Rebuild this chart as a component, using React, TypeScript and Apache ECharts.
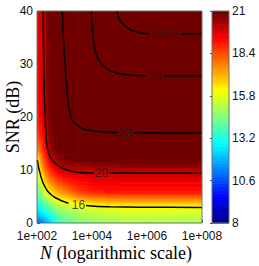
import React, { useEffect, useRef } from 'react';
import * as echarts from 'echarts';

// grid of the surface (x: log10 N, y: SNR in dB)
const logNGrid = [2, 2.15, 2.3, 2.5, 2.75, 3, 3.5, 4, 5, 8];
const snrGrid = [0, 1, 2, 3, 4, 5, 6, 8, 10, 12, 14, 17, 20, 25, 30, 35, 40];
// one array per logN column, values listed along snrGrid
const col200 = [10.5, 11.5, 12.3, 12.8, 13.3, 13.8, 14.2, 14.9, 15.5, 16.1, 17.5, 18.6, 19.0, 19.2, 19.35, 19.45, 19.5];
const col215 = [11.0, 11.9, 12.6, 13.1, 13.7, 14.3, 14.8, 15.6, 16.7, 17.6, 18.4, 19.1, 19.5, 19.7, 19.8, 19.85, 19.9];
const col230 = [11.5, 12.3, 13.0, 13.6, 14.3, 15.0, 15.8, 16.9, 17.9, 18.7, 19.3, 19.85, 20.1, 20.3, 20.4, 20.45, 20.5];
const col250 = [12.3, 12.9, 13.5, 14.2, 15.0, 15.8, 16.5, 17.8, 18.9, 19.8, 20.4, 20.9, 21.1, 21.3, 21.4, 21.45, 21.5];
const col275 = [13.3, 13.8, 14.3, 14.9, 15.7, 16.5, 17.3, 18.5, 19.6, 20.5, 21.1, 21.7, 22.0, 22.3, 22.45, 22.55, 22.6];
const col300 = [13.9, 14.3, 14.7, 15.2, 15.9, 16.8, 17.7, 18.9, 19.95, 20.8, 21.4, 22.0, 22.5, 22.8, 22.95, 23.05, 23.1];
const col350 = [14.4, 14.75, 15.1, 15.6, 16.4, 17.6, 18.6, 19.3, 20.1, 20.9, 21.6, 22.7, 23.15, 23.35, 23.45, 23.55, 23.6];
const col400 = [14.7, 15.05, 15.4, 15.85, 16.8, 18.0, 19.0, 19.5, 20.1, 21.1, 21.9, 22.85, 23.35, 23.75, 23.92, 23.98, 24.0];
const col500 = [14.95, 15.25, 15.55, 15.95, 17.0, 18.2, 19.2, 19.6, 20.2, 21.3, 22.1, 23.0, 23.5, 23.95, 24.04, 24.08, 24.09];
const col800 = [15.0, 15.3, 15.6, 16.0, 17.0, 18.2, 19.2, 19.6, 20.2, 21.3, 22.1, 23.0, 23.5, 23.96, 24.045, 24.088, 24.105];
const columns = [col200, col215, col230, col250, col275, col300, col350, col400, col500, col800];

// contour lines [log10 N, SNR], split where the label sits
const contour16a = [[2.011, 11.89], [2.055, 10.57], [2.109, 9.43], [2.182, 8.11], [2.273, 6.98], [2.382, 6.04], [2.509, 5.38], [2.655, 4.81], [2.836, 4.34], [3.018, 3.96], [3.145, 3.74]];
const contour16b = [[3.782, 3.3], [4.109, 3.15], [4.655, 3.06], [5.745, 2.98], [8, 2.92]];
const contour20a = [[2.218, 40], [2.236, 32.64], [2.273, 23.21], [2.309, 18.49], [2.345, 15.28], [2.418, 13.21], [2.545, 11.89], [2.738, 10.94], [2.945, 10.28], [3.225, 9.81], [3.564, 9.53], [4.055, 9.43]];
const contour20b = [[4.636, 9.43], [8, 9.38]];
const contour23a = [[2.92, 40], [2.964, 34.53], [3.018, 29.81], [3.091, 25.09], [3.145, 22.26], [3.218, 20.19], [3.309, 19.15], [3.465, 18.4], [3.684, 17.74], [3.953, 17.45], [4.291, 17.26], [4.655, 17.11], [4.909, 17.04]];
const contour23b = [[5.509, 17.02], [8, 16.98]];
const contour24a = [[3.975, 40], [4.018, 36.42], [4.073, 33.58], [4.164, 31.7], [4.291, 30.43], [4.473, 29.43], [4.68, 28.68], [4.909, 28.3], [5.2, 28.02], [5.564, 27.83], [5.964, 27.74]];
const contour24b = [[6.618, 27.74], [8, 27.74]];
const contour2409a = [[4.898, 40], [5.018, 38.3], [5.2, 37.17], [5.382, 36.51], [5.636, 36.04], [5.865, 35.79], [6.073, 35.66]];
const contour2409b = [[7.273, 35.66], [8, 35.66]];
const contourSegments = [contour16a, contour16b, contour20a, contour20b, contour23a, contour23b, contour24a, contour24b, contour2409a, contour2409b];
const contourLabels = [[3.509, 3.4, '16'], [4.345, 9.43, '20'], [5.2, 16.98, '23'], [6.29, 27.74, '24'], [6.69, 35.66, '24.09']];

const xTickValues = [2, 4, 6, 8];
const colorMin = 8;
const colorMax = 21;
const colorTicks = [8, 10.6, 13.2, 15.8, 18.4, 21];
const nColors = 64;

const clamp01 = (v: number) => Math.max(0, Math.min(1, v));
function jet(f: number) {
  let r = clamp01(1.5 - Math.abs(4 * f - 3));
  if (f > 0.875) r = 1 - ((f - 0.875) / 0.125) * 0.6;
  const g = clamp01(1.5 - Math.abs(4 * f - 2));
  const b = clamp01(1.5 - Math.abs(4 * f - 1));
  return `rgb(${Math.round(r * 255)},${Math.round(g * 255)},${Math.round(b * 255)})`;
}
function colorOf(v: number) {
  const f = (v - colorMin) / (colorMax - colorMin);
  const k = Math.max(0, Math.min(nColors - 1, Math.floor(f * nColors)));
  return jet((k + 0.5) / nColors);
}
const clampV = (v: number) => Math.max(colorMin, Math.min(colorMax, v));

export default function App() {
  const ref = useRef<HTMLDivElement>(null);
  useEffect(() => {
    const chart = echarts.init(ref.current!, null, { renderer: 'svg' });

    const cells: number[][] = [];
    for (let i = 0; i < logNGrid.length - 1; i++) {
      for (let j = 0; j < snrGrid.length - 1; j++) {
        cells.push([(logNGrid[i] + logNGrid[i + 1]) / 2, (snrGrid[j] + snrGrid[j + 1]) / 2, i, j]);
      }
    }
    const bands: number[][] = [];
    for (let k = 0; k < nColors; k++) {
      bands.push([0.5, colorMin + ((k + 0.5) * (colorMax - colorMin)) / nColors, k]);
    }

    const fieldRender = (_p: any, api: any) => {
      const i = api.value(2);
      const j = api.value(3);
      const pA = api.coord([logNGrid[i], snrGrid[j]]);
      const pB = api.coord([logNGrid[i + 1], snrGrid[j + 1]]);
      const left = pA[0];
      const bottom = pA[1];
      const w = pB[0] - pA[0];
      const h = pA[1] - pB[1];
      const v00 = clampV(columns[i][j]);
      const v10 = clampV(columns[i + 1][j]);
      const v01 = clampV(columns[i][j + 1]);
      const v11 = clampV(columns[i + 1][j + 1]);
      const sx = (Math.max(Math.abs(v10 - v00), Math.abs(v11 - v01)) / (colorMax - colorMin)) * nColors;
      const sy = (Math.max(Math.abs(v01 - v00), Math.abs(v11 - v10)) / (colorMax - colorMin)) * nColors;
      const nx = Math.max(1, Math.min(Math.ceil(w / 1.5), Math.ceil(sx * 2)));
      const ny = Math.max(1, Math.min(Math.ceil(h / 1.5), Math.ceil(sy * 2)));
      const children: any[] = [];
      for (let a = 0; a < nx; a++) {
        for (let b = 0; b < ny; b++) {
          const u = (a + 0.5) / nx;
          const t = (b + 0.5) / ny;
          const v = v00 * (1 - u) * (1 - t) + v10 * u * (1 - t) + v01 * (1 - u) * t + v11 * u * t;
          children.push({
            type: 'rect',
            shape: { x: left + (a * w) / nx, y: bottom - ((b + 1) * h) / ny, width: w / nx + 0.6, height: h / ny + 0.6 },
            style: { fill: colorOf(v) },
          });
        }
      }
      return { type: 'group', children };
    };

    const bandRender = (_p: any, api: any) => {
      const k = api.value(2);
      const v0 = colorMin + (k * (colorMax - colorMin)) / nColors;
      const v1 = colorMin + ((k + 1) * (colorMax - colorMin)) / nColors;
      const p0 = api.coord([0, v0]);
      const p1 = api.coord([1, v1]);
      return {
        type: 'rect',
        shape: { x: p0[0], y: p1[1], width: p1[0] - p0[0], height: p0[1] - p1[1] + 0.6 },
        style: { fill: jet((k + 0.5) / nColors) },
      };
    };

    const tickFont = { fontFamily: 'Liberation Sans', fontSize: 12, color: '#111', lineHeight: 11 };

    const series: any[] = [
      {
        type: 'custom',
        coordinateSystem: 'cartesian2d',
        xAxisIndex: 0,
        yAxisIndex: 0,
        renderItem: fieldRender,
        data: cells,
        encode: { x: 0, y: 1 },
        silent: true,
        clip: true,
        z: 1,
      },
      {
        type: 'custom',
        coordinateSystem: 'cartesian2d',
        xAxisIndex: 1,
        yAxisIndex: 1,
        renderItem: bandRender,
        data: bands,
        encode: { x: 0, y: 1 },
        silent: true,
        z: 1,
      },
    ];
    contourSegments.forEach((seg) => {
      series.push({
        type: 'line',
        xAxisIndex: 0,
        yAxisIndex: 0,
        data: seg,
        symbol: 'none',
        smooth: 0.3,
        silent: true,
        lineStyle: { color: '#000', width: 1.5 },
        z: 5,
      });
    });
    series.push({
      type: 'scatter',
      xAxisIndex: 0,
      yAxisIndex: 0,
      data: contourLabels,
      symbolSize: 1,
      itemStyle: { color: 'rgba(0,0,0,0)' },
      silent: true,
      z: 6,
      label: {
        show: true,
        position: 'inside',
        formatter: (p: any) => p.data[2],
        fontFamily: 'Liberation Sans',
        fontSize: 12,
        color: '#1a1a1a',
      },
    });

    const option: any = {
      animation: false,
      backgroundColor: '#fff',
      grid: [
        { left: 37, top: 11, width: 165, height: 212 },
        { left: 212, top: 11, width: 17, height: 212 },
      ],
      xAxis: [
        {
          type: 'value',
          gridIndex: 0,
          min: 2,
          max: 8,
          interval: 2,
          axisLine: { show: false },
          splitLine: { show: false },
          axisTick: { show: true, inside: true, length: 3, lineStyle: { color: '#444' } },
          axisLabel: {
            ...tickFont,
            lineHeight: 12,
            margin: 7,
            formatter: (v: number) => (xTickValues.includes(v) ? '1e+' + String(v).padStart(3, '0') : ''),
          },
        },
        { type: 'value', gridIndex: 1, min: 0, max: 1, show: false },
      ],
      yAxis: [
        {
          type: 'value',
          gridIndex: 0,
          min: 0,
          max: 40,
          interval: 10,
          axisLine: { show: false },
          splitLine: { show: false },
          axisTick: { show: true, inside: true, length: 3, lineStyle: { color: '#444' } },
          axisLabel: { ...tickFont, margin: 4 },
        },
        {
          type: 'value',
          gridIndex: 1,
          position: 'right',
          min: colorMin,
          max: colorMax,
          interval: 2.6,
          axisLine: { show: false },
          splitLine: { show: false },
          axisTick: { show: true, inside: true, length: 2, lineStyle: { color: '#444' } },
          axisLabel: {
            ...tickFont,
            margin: 3,
            formatter: (v: number) => {
              const r = Math.round(v * 10) / 10;
              return colorTicks.some((t) => Math.abs(t - r) < 1e-6) ? String(r) : '';
            },
          },
        },
      ],
      graphic: [
        {
          type: 'rect',
          z: 100,
          silent: true,
          shape: { x: 37, y: 11, width: 165, height: 212 },
          style: { fill: 'none', stroke: '#6e6e6e', lineWidth: 1 },
        },
        {
          type: 'rect',
          z: 100,
          silent: true,
          shape: { x: 212, y: 11, width: 17, height: 212 },
          style: { fill: 'none', stroke: '#6e6e6e', lineWidth: 1 },
        },
        {
          type: 'text',
          z: 100,
          x: 13,
          y: 117,
          rotation: Math.PI / 2,
          style: {
            text: 'SNR (dB)',
            fontFamily: 'Liberation Serif',
            fontSize: 18,
            fill: '#000',
            align: 'center',
            verticalAlign: 'middle',
            textAlign: 'center',
            textVerticalAlign: 'middle',
          },
        },
        {
          type: 'text',
          z: 100,
          x: 116,
          y: 252.5,
          style: {
            text: '{i|N} (logarithmic scale)',
            fontFamily: 'Liberation Serif',
            fontSize: 18,
            lineHeight: 16,
            fill: '#000',
            align: 'center',
            verticalAlign: 'middle',
            textAlign: 'center',
            textVerticalAlign: 'middle',
            rich: { i: { fontFamily: 'Liberation Serif', fontSize: 18, lineHeight: 16, fontStyle: 'italic' } },
          },
        },
      ],
      series,
    };
    chart.setOption(option);
    return () => chart.dispose();
  }, []);
  return <div ref={ref} style={{ position: 'absolute', left: 0, top: 0, width: 259, height: 266 }} />;
}
